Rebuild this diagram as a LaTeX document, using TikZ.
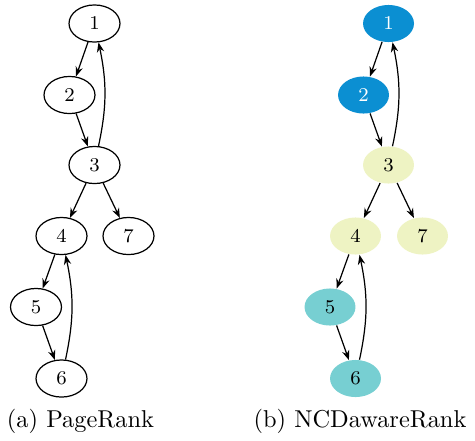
\documentclass[tikz,border=0pt]{standalone}
\usetikzlibrary{arrows.meta,shapes.geometric}
\definecolor{nblue}{HTML}{0B8FD2}
\definecolor{nyellow}{HTML}{EEF3C3}
\definecolor{nteal}{HTML}{77CFD2}
\begin{document}
\begin{tikzpicture}[x=0.41pt,y=-0.41pt,
  vtx/.style={ellipse,inner sep=0pt,minimum width=20.9pt,minimum height=15.2pt,font=\footnotesize},
  plainv/.style={vtx,draw,line width=0.5pt},
  cblue/.style={vtx,fill=nblue,text=white},
  cyel/.style={vtx,fill=nyellow},
  cteal/.style={vtx,fill=nteal},
  arr/.style={-{Stealth[length=4pt,width=3pt]},line width=0.5pt},
  captext/.style={font=\normalsize,inner sep=0pt}]
\useasboundingbox (0,0) rectangle (475,440);
% left graph
\node[plainv] (a1) at (94.5,23.5) {1};
\node[plainv] (a2) at (69.5,95) {2};
\node[plainv] (a3) at (94.5,165) {3};
\node[plainv] (a4) at (61.5,236) {4};
\node[plainv] (a7) at (128.5,236) {7};
\node[plainv] (a5) at (36,307) {5};
\node[plainv] (a6) at (61.5,378.5) {6};
\draw[arr] (a1) -- (a2);
\draw[arr] (a2) -- (a3);
\draw[arr] (a3) to[bend right=12] (a1);
\draw[arr] (a3) -- (a4);
\draw[arr] (a3) -- (a7);
\draw[arr] (a4) -- (a5);
\draw[arr] (a5) -- (a6);
\draw[arr] (a6) to[bend right=12] (a4);
\node[captext] (ca) at (80.5,421) {(a) PageRank};
% right graph
\node[cblue] (b1) at (388.5,23.5) {1};
\node[cblue] (b2) at (363.5,95) {2};
\node[cyel] (b3) at (388.5,165) {3};
\node[cyel] (b4) at (355.5,236) {4};
\node[cyel] (b7) at (422.5,236) {7};
\node[cteal] (b5) at (330,307) {5};
\node[cteal] (b6) at (355.5,378.5) {6};
\draw[arr] (b1) -- (b2);
\draw[arr] (b2) -- (b3);
\draw[arr] (b3) to[bend right=12] (b1);
\draw[arr] (b3) -- (b4);
\draw[arr] (b3) -- (b7);
\draw[arr] (b4) -- (b5);
\draw[arr] (b5) -- (b6);
\draw[arr] (b6) to[bend right=12] (b4);
\node[captext] (cb) at (360,421) {(b) NCDawareRank};
\end{tikzpicture}
\end{document}
